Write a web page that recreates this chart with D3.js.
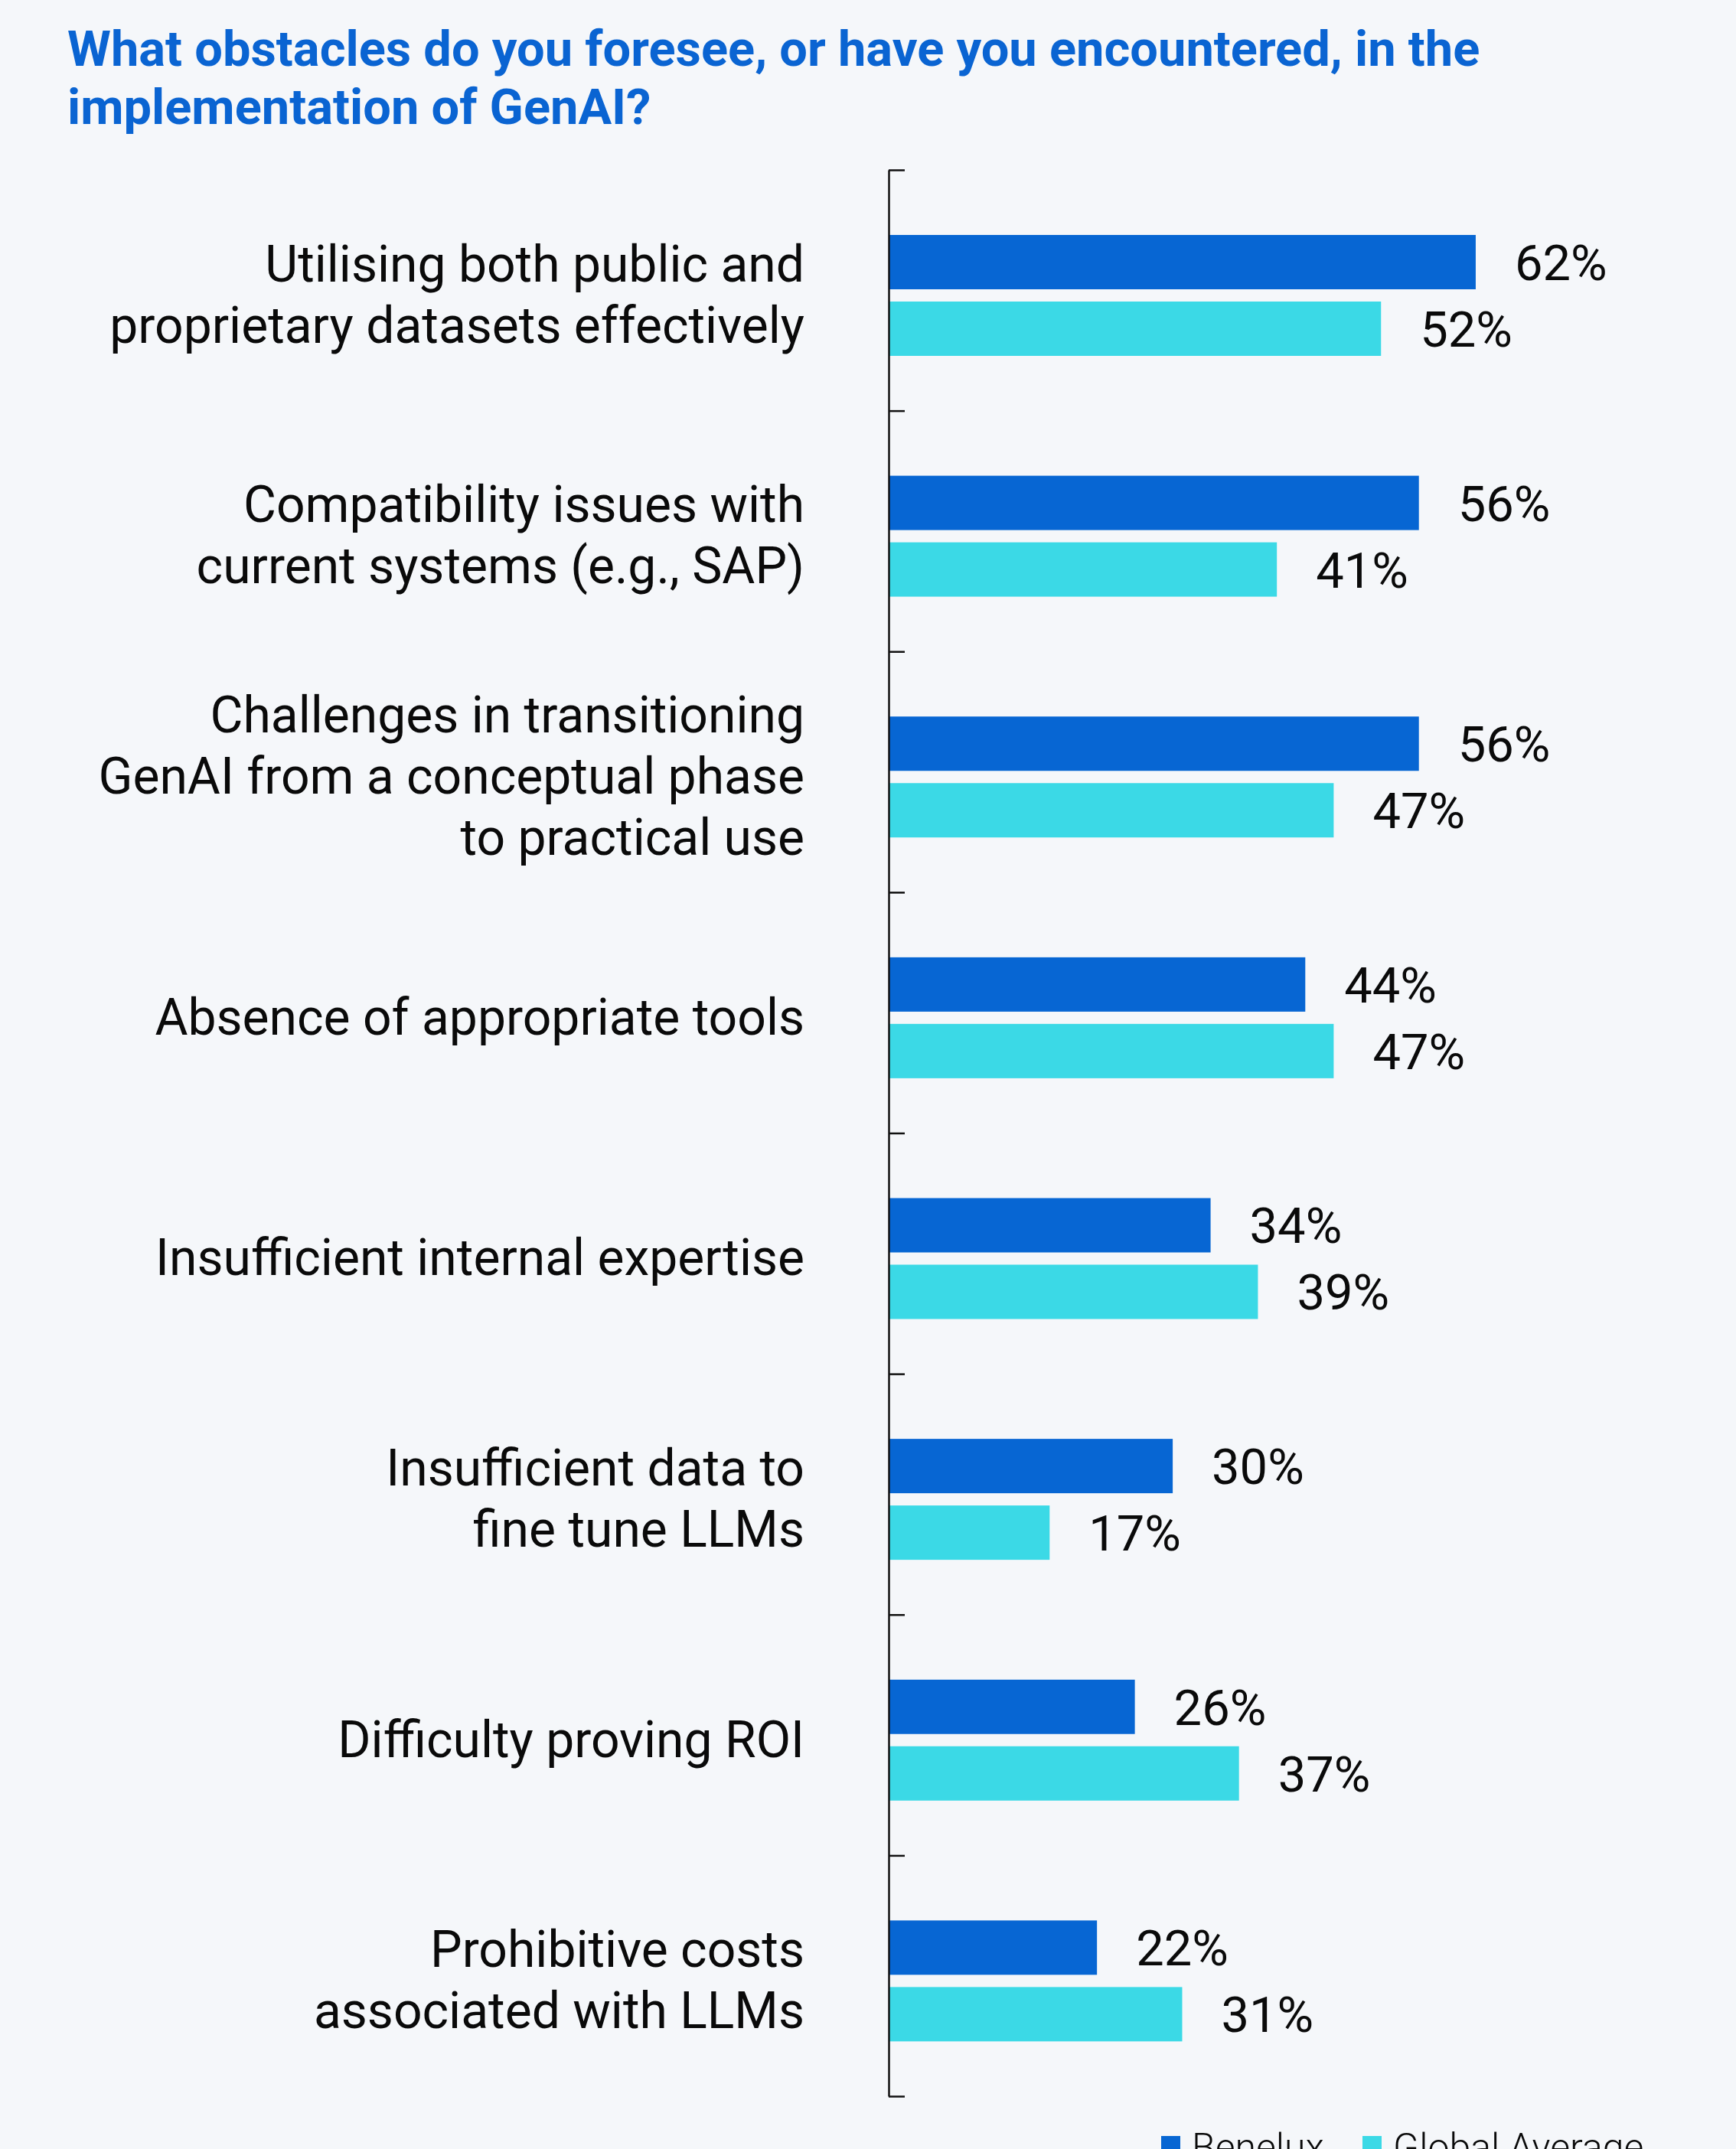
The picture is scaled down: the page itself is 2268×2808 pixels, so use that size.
<!DOCTYPE html>
<html><head><meta charset="utf-8">
<script src="https://cdn.jsdelivr.net/npm/d3@7"></script>
<style>
html,body{margin:0;padding:0;background:#f5f7fa;}
svg{display:block;}
text{font-family:Roboto,"Noto Sans",sans-serif;}
</style></head>
<body>
<script>
const titleLines = ["What obstacles do you foresee, or have you encountered, in the", "implementation of GenAI?"];
const categories = [
  ["Utilising both public and", "proprietary datasets effectively"],
  ["Compatibility issues with", "current systems (e.g., SAP)"],
  ["Challenges in transitioning", "GenAI from a conceptual phase", "to practical use"],
  ["Absence of appropriate tools"],
  ["Insufficient internal expertise"],
  ["Insufficient data to", "fine tune LLMs"],
  ["Difficulty proving ROI"],
  ["Prohibitive costs", "associated with LLMs"]
];
const seriesNames = ["Benelux", "Global Average"];
const benelux = [62, 56, 56, 44, 34, 30, 26, 22];
const globalAvg = [52, 41, 47, 47, 39, 17, 37, 31];
const colors = ["#0766d3", "#3bd9e6"];

const W = 2268, H = 2808;
const svg = d3.select("body").append("svg").attr("width", W).attr("height", H);
svg.append("rect").attr("width", W).attr("height", H).attr("fill", "#f5f7fa");

const axisX = 1161, plotTop = 222, plotBottom = 2739;
const keys = categories.map(c => c.join(" "));
const y0 = d3.scaleBand().domain(keys).range([plotTop, plotBottom]);
const y1 = d3.scaleBand().domain(seriesNames).range([85, 243]).paddingInner(0.184);
const x = d3.scaleLinear().domain([0, 100]).range([axisX, axisX + 1237]);
const yTicks = d3.scaleLinear().domain([0, categories.length]).range([plotTop, plotBottom]);

// title
svg.append("g").selectAll("text").data(titleLines).join("text")
  .attr("x", 88).attr("y", (d, i) => 86 + i * 76)
  .attr("fill", "#0a64d2").attr("font-weight", 700).attr("font-size", 65)
  .text(d => d);

const data = keys.map((k, i) => ({key: k, lines: categories[i], vals: [benelux[i], globalAvg[i]]}));

const g = svg.append("g").selectAll("g").data(data).join("g")
  .attr("transform", d => `translate(0,${y0(d.key)})`);

g.selectAll("rect").data(d => d.vals.map((v, j) => ({v, s: seriesNames[j], j}))).join("rect")
  .attr("x", x(0)).attr("y", d => y1(d.s))
  .attr("width", d => x(d.v) - x(0)).attr("height", y1.bandwidth())
  .attr("fill", d => colors[d.j]);

g.selectAll("text.val").data(d => d.vals.map((v, j) => ({v, s: seriesNames[j]}))).join("text")
  .attr("class", "val")
  .attr("x", d => x(d.v) + 51).attr("y", d => y1(d.s) + y1.bandwidth() / 2)
  .attr("dy", "0.36em").attr("font-size", 65).attr("fill", "#0a0a0a")
  .text(d => d.v + "%");

const labCenter = (y1("Benelux") + y1("Global Average") + y1.bandwidth()) / 2;
g.each(function(d) {
  const n = d.lines.length;
  d3.select(this).selectAll("text.cat").data(d.lines).join("text")
    .attr("class", "cat")
    .attr("x", 1051).attr("text-anchor", "end")
    .attr("y", (l, i) => labCenter - 2 + (i - (n - 1) / 2) * 80)
    .attr("dy", "0.36em").attr("font-size", 66).attr("fill", "#0a0a0a")
    .text(l => l);
});

// axis
const axis = d3.axisRight(yTicks).tickValues(d3.range(categories.length + 1))
  .tickSize(21).tickSizeOuter(0).tickFormat("");
const ag = svg.append("g").attr("transform", `translate(${axisX},0)`).call(axis);
ag.selectAll("path,line").attr("stroke", "#111").attr("stroke-width", 2.5);

// legend
const legX = [1517, 1780];
const lg = svg.append("g").selectAll("g").data(seriesNames).join("g")
  .attr("transform", (d, i) => `translate(${legX[i]},2791)`);
lg.append("rect").attr("width", 25).attr("height", 25).attr("fill", (d, i) => colors[i]);
lg.append("text").attr("x", 40).attr("y", 32).attr("font-size", 50).attr("font-weight", 300)
  .attr("fill", "#0a0a0a").text(d => d);
</script>
</body></html>
